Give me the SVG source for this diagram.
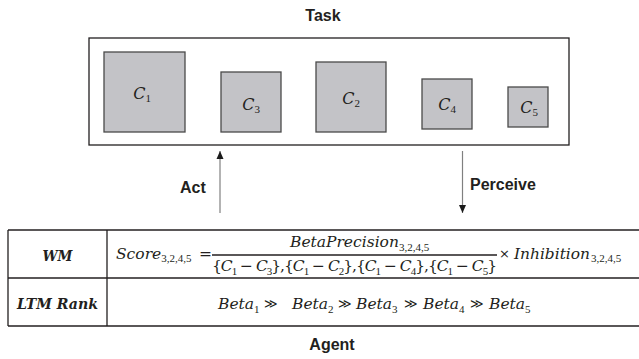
<svg xmlns="http://www.w3.org/2000/svg" width="639" height="359" viewBox="0 0 639 359">
<style>
.title{font-family:"Liberation Sans",Arial,sans-serif;font-weight:bold;font-size:16px;fill:#231f20}
.box{fill:none;stroke:#231f20;stroke-width:1.3}
.sq{fill:#c3c3c7;stroke:#4a4a4a;stroke-width:1.3}
.m{font-family:"DejaVu Serif",serif;font-style:italic;font-size:15.5px;fill:#231f20}
.cl{font-family:"DejaVu Serif",serif;font-style:italic;font-size:16px;fill:#231f20}
.up{font-style:normal}
.sb{font-family:"Liberation Serif","Times New Roman",serif;font-style:normal;font-size:11px;fill:#231f20}
.op{font-family:"DejaVu Sans",sans-serif;font-style:normal;font-size:13px;fill:#231f20}
.lab{font-family:"DejaVu Serif",serif;font-style:italic;font-weight:bold;font-size:14.5px;fill:#231f20}
.tl{stroke:#231f20;stroke-width:1.3}
.conn{stroke:#808080;stroke-width:1.2;fill:none}
</style>
<defs>
<marker id="ah" viewBox="0 0 8 8" refX="8" refY="4" markerWidth="8" markerHeight="8" markerUnits="userSpaceOnUse" orient="auto">
<path d="M0,0.5 L8,4 L0,7.5 z" fill="#1a1a1a"/>
</marker>
</defs>
<rect width="639" height="359" fill="#ffffff"/>

<g id="task">
<text class="title" x="323" y="21" text-anchor="middle">Task</text>
<rect class="box" x="89" y="38" width="480" height="107"/>
</g>
<g id="c1">
<rect class="sq" x="104" y="52" width="81" height="80"/>
<text class="cl" x="142" y="99" text-anchor="middle">C<tspan class="sb" font-size="12" dy="3">1</tspan></text>
</g>
<g id="c3">
<rect class="sq" x="221" y="72" width="60" height="60"/>
<text class="cl" x="251" y="110" text-anchor="middle">C<tspan class="sb" font-size="12" dy="3">3</tspan></text>
</g>
<g id="c2">
<rect class="sq" x="316" y="62" width="70" height="70"/>
<text class="cl" x="351" y="104" text-anchor="middle">C<tspan class="sb" font-size="12" dy="3">2</tspan></text>
</g>
<g id="c4">
<rect class="sq" x="422" y="79" width="50" height="50"/>
<text class="cl" x="447" y="110" text-anchor="middle">C<tspan class="sb" font-size="12" dy="3">4</tspan></text>
</g>
<g id="c5">
<rect class="sq" x="508" y="87" width="40" height="40"/>
<text class="cl" x="529" y="113" text-anchor="middle">C<tspan class="sb" font-size="12" dy="3">5</tspan></text>
</g>

<g id="connectors">
<line class="conn" x1="220" y1="213" x2="220" y2="151" marker-end="url(#ah)"/>
<text class="title" x="180" y="193">Act</text>
<line class="conn" x1="462.5" y1="151" x2="462.5" y2="213" marker-end="url(#ah)"/>
<text class="title" x="470" y="190">Perceive</text>
</g>

<g id="agent">
<line class="tl" x1="8" y1="230" x2="639" y2="230"/>
<line class="tl" x1="8" y1="278" x2="639" y2="278"/>
<line class="tl" x1="8" y1="326" x2="639" y2="326"/>
<line class="tl" x1="8" y1="230" x2="8" y2="326"/>
<line class="tl" x1="107" y1="230" x2="107" y2="326"/>
<text class="lab" x="57.5" y="261" text-anchor="middle" textLength="30" lengthAdjust="spacingAndGlyphs">WM</text>
<text class="lab" x="17" y="309" textLength="81" lengthAdjust="spacingAndGlyphs">LTM Rank</text>

<text class="m" x="116" y="258.5">Score<tspan class="sb" dy="3.5">3,2,4,5</tspan></text>
<text class="m up" x="199" y="258.5">=</text>
<text class="m" x="290" y="247">BetaPrecision<tspan class="sb" dy="3.5">3,2,4,5</tspan></text>
<line x1="212" y1="255" x2="497" y2="255" stroke="#231f20" stroke-width="1.4"/>
<text class="m" x="212" y="271" textLength="285" lengthAdjust="spacing"><tspan class="up">{</tspan>C<tspan class="sb" dy="3.5">1</tspan><tspan class="up" dy="-3.5"> − </tspan>C<tspan class="sb" dy="3.5">3</tspan><tspan class="up" dy="-3.5">},{</tspan>C<tspan class="sb" dy="3.5">1</tspan><tspan class="up" dy="-3.5"> − </tspan>C<tspan class="sb" dy="3.5">2</tspan><tspan class="up" dy="-3.5">},{</tspan>C<tspan class="sb" dy="3.5">1</tspan><tspan class="up" dy="-3.5"> − </tspan>C<tspan class="sb" dy="3.5">4</tspan><tspan class="up" dy="-3.5">},{</tspan>C<tspan class="sb" dy="3.5">1</tspan><tspan class="up" dy="-3.5"> − </tspan>C<tspan class="sb" dy="3.5">5</tspan><tspan class="up" dy="-3.5">}</tspan></text>
<text class="op" x="499" y="258">×</text>
<text class="m" x="514" y="258.5" textLength="76" lengthAdjust="spacingAndGlyphs">Inhibition</text>
<text class="sb" x="591" y="262">3,2,4,5</text>

<text class="m" x="218" y="309">Beta<tspan class="sb" dy="3.5">1</tspan></text>
<text class="op" x="264" y="308">≫</text>
<text class="m" x="292" y="309">Beta<tspan class="sb" dy="3.5">2</tspan></text>
<text class="op" x="338" y="308">≫</text>
<text class="m" x="356" y="309">Beta<tspan class="sb" dy="3.5">3</tspan></text>
<text class="op" x="404" y="308">≫</text>
<text class="m" x="423" y="309">Beta<tspan class="sb" dy="3.5">4</tspan></text>
<text class="op" x="470" y="308">≫</text>
<text class="m" x="489" y="309">Beta<tspan class="sb" dy="3.5">5</tspan></text>

<text class="title" x="332" y="350" text-anchor="middle">Agent</text>
</g>
</svg>
